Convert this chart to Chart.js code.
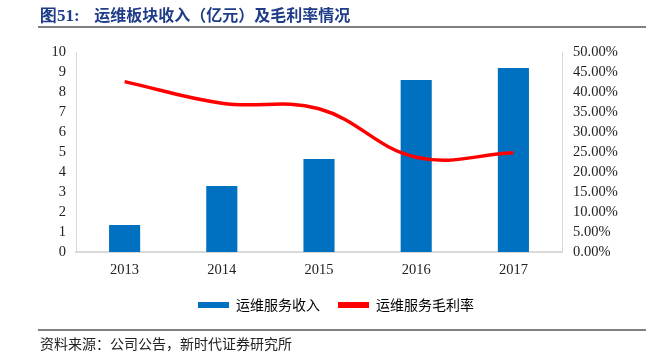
<!DOCTYPE html>
<html>
<head>
<meta charset="utf-8">
<script src="https://cdn.jsdelivr.net/npm/chart.js@4/dist/chart.umd.min.js"></script>
<style>
html,body{margin:0;padding:0;background:#fff;}
#wrap{position:relative;width:656px;height:355px;overflow:hidden;}
#c{position:absolute;left:0;top:0;}
#title{position:absolute;left:40px;top:4px;font-family:"Noto Sans CJK SC","Noto Sans",sans-serif;font-weight:bold;font-size:16px;color:#1F3C88;white-space:nowrap;line-height:20px;}
#title .num{font-family:"Liberation Serif",serif;font-size:17px;}
#topline{position:absolute;left:38px;top:26px;width:608px;height:2px;background:#808080;}
#botline{position:absolute;left:38px;top:329px;width:608px;height:2px;background:#808080;}
#src{position:absolute;left:40px;top:334px;font-family:"Noto Sans CJK SC",sans-serif;font-size:14px;color:#222;white-space:nowrap;line-height:18px;}
</style>
</head>
<body>
<div id="wrap">
<canvas id="c" width="656" height="355"></canvas>
<div id="title"><span class="num">图51:</span>&nbsp;&nbsp;&nbsp;&nbsp;运维板块收入（亿元）及毛利率情况</div>
<div id="topline"></div>
<div id="botline"></div>
<div id="src">资料来源：公司公告，新时代证券研究所</div>
</div>
<script>
const years = ['2013', '2014', '2015', '2016', '2017'];
const revenue = [1.35, 3.3, 4.65, 8.6, 9.2];
const marginPct = [42.6, 37.2, 35.8, 23.7, 24.8];
const seriesNames = ['运维服务收入', '运维服务毛利率'];

const tickFont = {family: "'Liberation Serif','Times New Roman',serif", size: 14.5};
const tickColor = '#222';

new Chart(document.getElementById('c'), {
  data: {
    labels: years,
    datasets: [
      {type: 'bar', label: seriesNames[0], data: revenue, yAxisID: 'y',
       backgroundColor: '#0070C0', borderWidth: 0,
       barPercentage: 0.32, categoryPercentage: 1, order: 1},
      {type: 'line', label: seriesNames[1], data: marginPct, yAxisID: 'y1',
       borderColor: '#FF0000', borderWidth: 3.5, pointRadius: 0, tension: 0.4,
       fill: false, order: 0}
    ]
  },
  options: {
    responsive: false,
    animation: false,
    devicePixelRatio: 1,
    layout: {padding: {left: 16, right: 0, top: 52, bottom: 33}},
    plugins: {
      tooltip: {enabled: false},
      legend: {
        position: 'bottom',
        labels: {
          font: {family: "'Noto Sans CJK SC',sans-serif", size: 14},
          color: '#222',
          boxWidth: 31, boxHeight: 6, padding: 18,
          generateLabels: (chart) => [
            {text: seriesNames[0], fillStyle: '#0070C0', strokeStyle: '#0070C0', lineWidth: 0, datasetIndex: 0},
            {text: seriesNames[1], fillStyle: '#FF0000', strokeStyle: '#FF0000', lineWidth: 0, datasetIndex: 1}
          ]
        }
      }
    },
    scales: {
      x: {
        offset: true,
        grid: {display: false, drawTicks: false},
        border: {color: '#D9D9D9', width: 2},
        ticks: {font: tickFont, color: tickColor, padding: 9},
        afterFit: (s) => { s.height = 28; }
      },
      y: {
        position: 'left', min: 0, max: 10,
        grid: {display: false, drawTicks: false},
        border: {color: '#D9D9D9', width: 1},
        ticks: {stepSize: 1, autoSkip: false, font: tickFont, color: tickColor, padding: 10},
        afterFit: (s) => { s.width = 60; }
      },
      y1: {
        position: 'right', min: 0, max: 50,
        grid: {display: false, drawTicks: false},
        border: {color: '#D9D9D9', width: 1},
        ticks: {stepSize: 5, autoSkip: false, font: tickFont, color: tickColor, padding: 11,
                callback: (v) => Number(v).toFixed(2) + '%'},
        afterFit: (s) => { s.width = 94; }
      }
    }
  }
});
</script>
</body>
</html>
